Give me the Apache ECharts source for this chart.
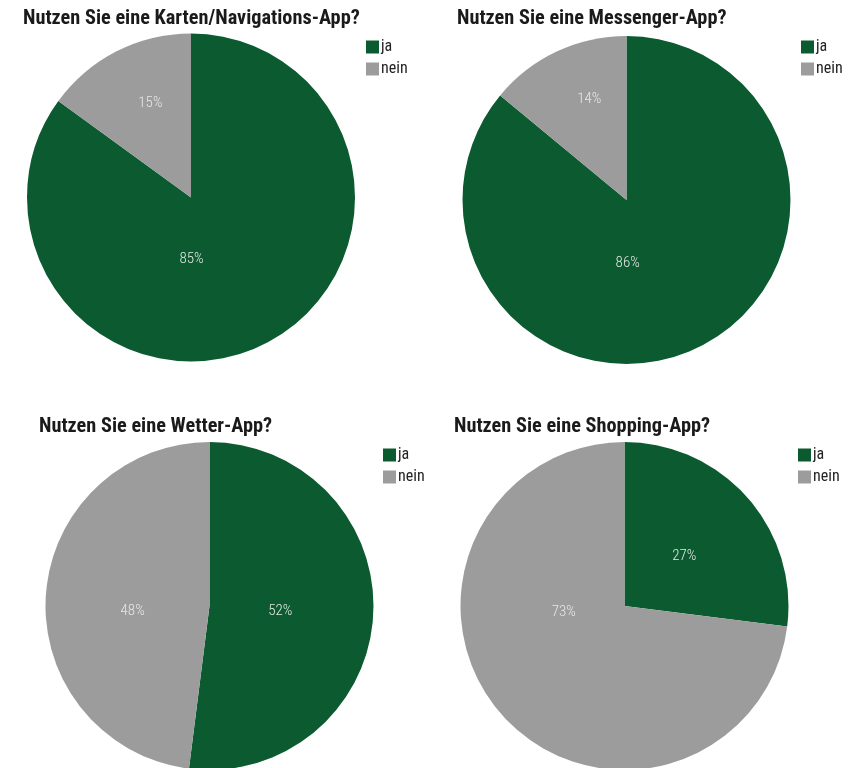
<!DOCTYPE html>
<html>
<head>
<meta charset="utf-8">
<script src="https://cdn.jsdelivr.net/npm/echarts@6/dist/echarts.min.js"></script>
<style>
  html, body { margin: 0; padding: 0; background: #ffffff; }
  #chart { width: 852px; height: 768px; }
</style>
</head>
<body>
<div id="chart"></div>
<script>
// Survey answers: share of "ja" / "nein" per app type
const categories = ['ja', 'nein'];
const questions = [
  'Nutzen Sie eine Karten/Navigations-App?',
  'Nutzen Sie eine Messenger-App?',
  'Nutzen Sie eine Wetter-App?',
  'Nutzen Sie eine Shopping-App?'
];
const navigationValues = [85, 15];
const messengerValues = [86, 14];
const weatherValues = [52, 48];
const shoppingValues = [27, 73];

const valueSets = [navigationValues, messengerValues, weatherValues, shoppingValues];

// Layout of the four panels
const panels = [
  { center: [191, 197.5], title: [23, 9],   legend: [366, 39] },
  { center: [626.5, 200], title: [457, 9],  legend: [801, 39] },
  { center: [209.5, 606], title: [39, 417],  legend: [383, 447] },
  { center: [624.5, 606], title: [454, 417], legend: [798, 447] }
];
// Per-slice label nudges (pixels) applied after the default inside placement
const labelNudge = [
  [[-38, -14], [-2, -19]],
  [[-35, -14], [-1, -24]],
  [[-14, 0], [8, 11]],
  [[-4, 6], [3, -50]]
];

const colors = ['#0b5a30', '#9c9c9c'];
const FONT = '"Roboto Condensed", "Roboto", sans-serif';

const chart = echarts.init(document.getElementById('chart'), null, { renderer: 'canvas' });

const option = {
  animation: false,
  color: colors,
  title: panels.map((p, i) => ({
    text: questions[i],
    left: p.title[0],
    top: p.title[1],
    padding: 0,
    textStyle: { fontFamily: FONT, fontWeight: 'bold', fontSize: 20.3, color: '#1a1a1a' }
  })),
  legend: panels.map((p) => ({
    data: categories,
    orient: 'vertical',
    left: p.legend[0],
    top: p.legend[1],
    padding: 0,
    icon: 'rect',
    itemWidth: 13,
    itemHeight: 13,
    itemGap: 6,
    selectedMode: false,
    textStyle: { fontFamily: FONT, fontSize: 16, color: '#222', padding: [0, 0, 0, -3] }
  })),
  series: panels.map((p, i) => ({
    type: 'pie',
    center: p.center,
    radius: 164,
    startAngle: 90,
    clockwise: true,
    silent: true,
    avoidLabelOverlap: false,
    data: categories.map((c, k) => ({ name: c, value: valueSets[i][k] })),
    itemStyle: { borderWidth: 0 },
    label: {
      show: true,
      position: 'inside',
      formatter: '{c}%',
      fontFamily: FONT,
      fontWeight: 300,
      fontSize: 15,
      color: '#e4e8e4'
    },
    labelLine: { show: false },
    labelLayout: (params) => {
      const n = labelNudge[i][params.dataIndex];
      return { dx: n[0], dy: n[1] };
    }
  }))
};

chart.setOption(option);
</script>
</body>
</html>
